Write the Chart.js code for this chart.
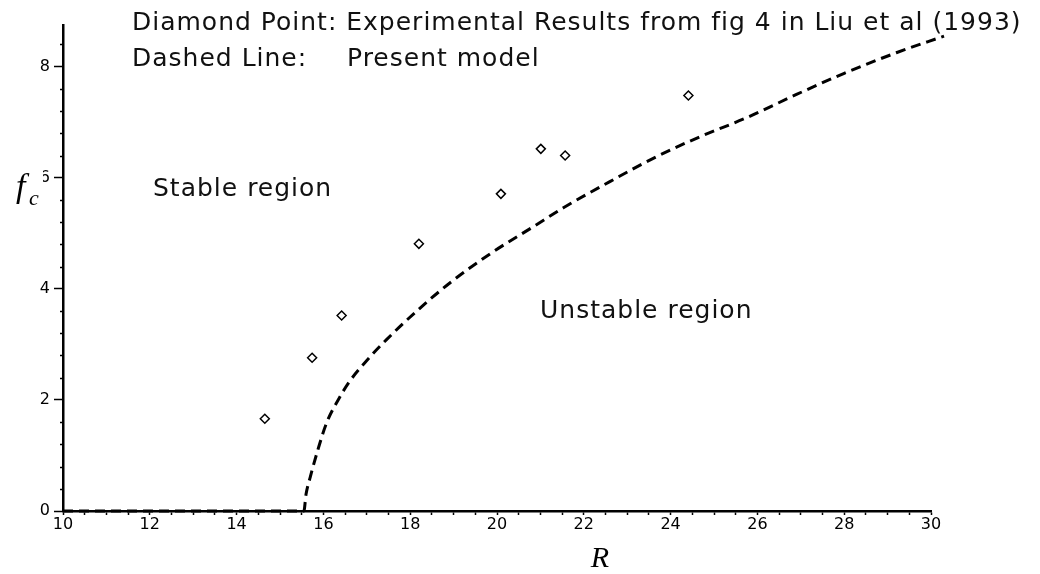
<!DOCTYPE html>
<html>
<head>
    <meta charset="utf-8">
    <title>Critical f_c vs R</title>
    <script src="https://cdn.jsdelivr.net/npm/chart.js"></script>
    <style>
      body { margin: 0; background: #fff; }
    </style>
</head>
<body>
<canvas id="fcChart" width="1040" height="574"></canvas>

<script>
    // Present model (dashed curve)
    const modelR  = [10, 15.55, 15.6, 15.7, 15.88, 16.07, 16.34, 16.61, 17.0, 17.46, 18.15, 18.92, 19.84, 20.84, 21.53, 22.6, 23.6, 24.68, 25.75, 26.9, 28.0, 29.2, 30.3];
    const modelFc = [0, 0, 0.3, 0.62, 1.12, 1.58, 2.0, 2.34, 2.71, 3.09, 3.6, 4.11, 4.63, 5.12, 5.46, 5.93, 6.35, 6.74, 7.08, 7.5, 7.88, 8.25, 8.55];

    // Experimental points (diamonds), Liu et al (1993)
    const expR  = [14.65, 15.74, 16.42, 18.2, 20.09, 21.01, 21.57, 24.41];
    const expFc = [1.66, 2.76, 3.52, 4.81, 5.71, 6.52, 6.4, 7.48];

    const xMajor = [10, 12, 14, 16, 18, 20, 22, 24, 26, 28, 30];
    const yMajor = [0, 2, 4, 6, 8];

    const isMajor = (v, list) => list.some(m => Math.abs(m - v) < 1e-6);

    const toPoints = (xs, ys) => xs.map((x, i) => ({ x: x, y: ys[i] }));

    // minor y ticks are shorter than the labelled ones
    const minorTicks = {
      id: 'minorTicks',
      afterDraw(chart) {
        const c = chart.ctx;
        const y = chart.scales.y;
        c.save();
        c.strokeStyle = '#000';
        c.lineWidth = 1.5;
        y.ticks.forEach(t => {
          if (isMajor(t.value, yMajor)) return;
          const py = Math.round(y.getPixelForValue(t.value)) + 0.5;
          c.beginPath();
          c.moveTo(y.right - 3, py);
          c.lineTo(y.right, py);
          c.stroke();
        });
        c.restore();
      }
    };

    // free text labels on the plot
    const notes = {
      id: 'notes',
      afterDraw(chart) {
        const c = chart.ctx;
        c.save();
        c.fillStyle = '#111';
        c.textBaseline = 'alphabetic';
        c.font = '25px "DejaVu Sans"';
        c.letterSpacing = '1px';
        c.fillText('Diamond Point: Experimental Results from fig 4 in Liu et al (1993)', 132, 30);
        c.fillText('Dashed Line:', 132, 66);
        c.fillText('Present model', 347, 66);
        c.fillText('Stable region', 153, 196);
        c.fillText('Unstable region', 540, 318);
        c.letterSpacing = '0px';

        // axis titles
        c.fillStyle = '#000';
        c.font = 'italic 30px "Liberation Serif"';
        c.textAlign = 'center';
        c.fillText('R', 600, 567);

        c.fillStyle = '#fff';
        c.fillRect(8, 164, 35, 44);
        c.fillStyle = '#000';
        c.textAlign = 'left';
        c.font = 'italic 34px "Liberation Serif"';
        c.fillText('f', 16, 197);
        c.font = 'italic 22px "Liberation Serif"';
        c.fillText('c', 29, 205);
        c.restore();
      }
    };

    const ctx = document.getElementById('fcChart').getContext('2d');
    const chart = new Chart(ctx, {
      type: 'scatter',
      data: {
        datasets: [
          {
            label: 'Present model',
            data: toPoints(modelR, modelFc),
            showLine: true,
            borderColor: '#000',
            borderWidth: 3,
            borderDash: [10, 6],
            cubicInterpolationMode: 'monotone',
            pointRadius: 0,
            clip: false
          },
          {
            label: 'Experimental',
            data: toPoints(expR, expFc),
            pointStyle: 'rectRot',
            pointRadius: 4.5,
            pointBorderWidth: 1.5,
            pointBorderColor: '#000',
            pointBackgroundColor: '#fff'
          }
        ]
      },
      options: {
        responsive: false,
        animation: false,
        layout: { padding: { left: 0, top: 25, right: 109, bottom: 0 } },
        plugins: {
          legend: { display: false },
          tooltip: { enabled: false }
        },
        scales: {
          x: {
            type: 'linear',
            min: 10,
            max: 30,
            afterFit(scale) { scale.height = 63; },
            border: { color: '#000', width: 2.5 },
            grid: {
              drawOnChartArea: false,
              drawTicks: true,
              tickLength: 4,
              tickColor: '#000',
              tickWidth: 1.5
            },
            ticks: {
              stepSize: 0.5,
              autoSkip: false,
              maxRotation: 0,
              padding: 0,
              color: '#000',
              font: { family: 'DejaVu Sans', size: 16 },
              callback: v => isMajor(v, xMajor) ? String(v) : ''
            }
          },
          y: {
            min: 0,
            max: 8.75,
            afterFit(scale) { scale.width = 63; },
            border: { color: '#000', width: 2.5 },
            grid: {
              drawOnChartArea: false,
              drawTicks: true,
              tickLength: 9,
              tickWidth: 1.5,
              tickColor: c => (c.tick && isMajor(c.tick.value, yMajor)) ? '#000' : 'rgba(0,0,0,0)'
            },
            ticks: {
              stepSize: 0.4,
              includeBounds: false,
              autoSkip: false,
              padding: 4,
              color: '#000',
              font: { family: 'DejaVu Sans', size: 16 },
              callback: v => isMajor(v, yMajor) ? String(v) : ''
            }
          }
        }
      },
      plugins: [minorTicks, notes]
    });
</script>
</body>
</html>
